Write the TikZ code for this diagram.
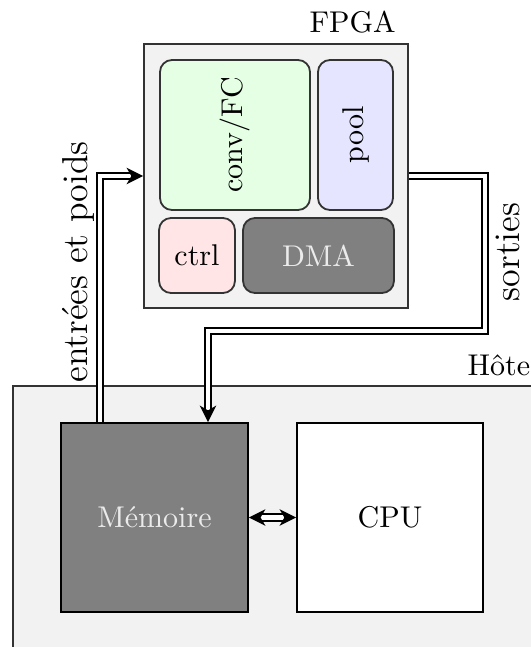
\documentclass[tikz,border=0pt]{standalone}
\usepackage{fontspec}
\usetikzlibrary{arrows.meta}
\begin{document}
\begin{tikzpicture}[x=0.3333pt,y=-0.3333pt,
  box/.style={draw=black!80, line width=0.6pt, inner sep=0pt},
  unit/.style={box, rounded corners=4pt},
  tip/.style={Stealth[length=5.5pt,width=5.5pt,inset=1.6pt]},
  dbl/.style={draw=black, line width=0.6pt, double=white, double distance=1.6pt, -{Stealth[length=5.5pt,width=5.5pt,inset=1.6pt]}},
  lbl/.style={inner sep=0pt}]
\useasboundingbox (0,0) rectangle (531,647);
\clip (0,0) rectangle (531,647);
% host
\node[box, fill=black!5, anchor=north west, minimum width=200pt, minimum height=100pt] (host) at (12,385) {};
\node[lbl, anchor=base west] (hostlbl) at (467,375) {Hôte};
% FPGA
\node[box, fill=black!5, minimum width=88pt, minimum height=88pt] (fpga) at (276,176) {};
\node[lbl, anchor=base west] (fpgalbl) at (309,32) {FPGA};
\node[unit, fill=green!10, minimum width=50pt, minimum height=50pt] (conv) at (235,135) {\rotatebox{90}{conv/FC}};
\node[unit, fill=blue!10, minimum width=25pt, minimum height=50pt] (pool) at (355.5,135) {\rotatebox{90}{pool}};
\node[unit, fill=red!10, minimum width=25.3pt, minimum height=25pt] (ctrl) at (197,255.5) {ctrl};
\node[unit, fill=black!50, text=white!92!black, minimum width=50.3pt, minimum height=25pt] (dma) at (318.5,255.5) {DMA};
% host units
\node[box, draw=black, fill=black!50, text=white!92!black, minimum width=62.3pt, minimum height=63pt] (mem) at (154.5,517.5) {Mémoire};
\node[box, draw=black, fill=white, minimum width=62pt, minimum height=63pt] (cpu) at (390,517.5) {CPU};
% connectors
\coordinate (a1) at (100,0);
\coordinate (a2) at (208,0);
\coordinate (c1) at (485,331);
\draw[dbl] (mem.north -| a1) |- (fpga.west);
\draw[dbl] (fpga.east) -| (c1) -| (mem.north -| a2);
\draw[dbl, {Stealth[length=5.5pt,width=5.5pt,inset=1.6pt]}-{Stealth[length=5.5pt,width=5.5pt,inset=1.6pt]}] (mem) -- (cpu);
\node[lbl, rotate=90, font=\large] (inlbl) at (78,262) {entrées et poids};
\node[lbl, rotate=90, font=\large] (outlbl) at (508,252) {sorties};
\end{tikzpicture}
\end{document}
